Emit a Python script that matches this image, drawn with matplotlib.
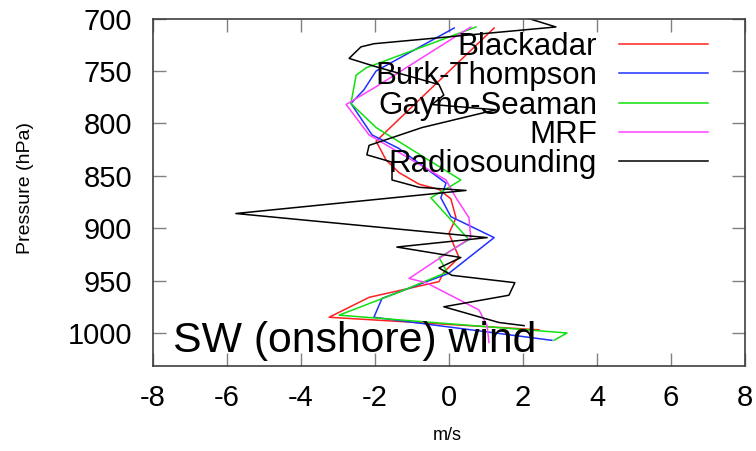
import matplotlib
matplotlib.use("Agg")
import matplotlib.pyplot as plt

# wind component (m/s) vs pressure (hPa)
blackadar_u = [1.22, -1.97, -1.70, -1.35, -0.81, -0.27, 0.05, 0.19, 0.00, 0.27, -0.14, -0.27, -2.16, -3.24, 2.43]
blackadar_p = [709, 817, 835, 847, 858, 863, 872, 890, 905, 928, 942, 951, 966, 985, 997]

burk_u = [0.14, -1.97, -2.30, -2.65, -2.08, -1.35, -0.08, -0.22, 0.05, 1.22, 0.00, -1.81, -2.03, 2.78]
burk_p = [709, 750, 768, 781, 811, 824, 857, 871, 889, 909, 943, 967, 985, 1007]

gayno_u = [0.73, -2.24, -2.51, -2.65, -1.97, 0.32, -0.05, -0.49, 0.54, -0.27, -0.05, -1.35, -2.97, 3.19, 2.84]
gayno_p = [708, 747, 754, 781, 804, 854, 862, 871, 911, 928, 942, 961, 983, 1000, 1007]

mrf_u = [0.59, -1.97, -2.78, -2.16, -0.08, 0.19, 0.54, 0.59, -1.08, -0.62, 0.81, 1.03, 1.08]
mrf_p = [708, 765, 782, 811, 854, 871, 890, 909, 948, 952, 978, 993, 1009]

sonde_u = [2.16, 2.89, -2.03, -2.38, -2.70, -1.97, -0.27, -0.14, -0.46, 1.27, -0.73, -2.16, -2.22,
           -1.54, -1.54, -0.81, 0.46, -5.76, 1.03, -1.41, 0.32, -0.27, 0.08, 1.78, 1.62, -0.14,
           1.35, 2.03]
sonde_p = [700, 708, 724, 727, 738, 746, 763, 773, 782, 787, 804, 821, 830,
           837, 854, 861, 864, 886, 909, 918, 928, 938, 945, 952, 964, 975,
           990, 993]

series = [
    ("Blackadar", blackadar_u, blackadar_p, "#ff2020"),
    ("Burk-Thompson", burk_u, burk_p, "#2030ff"),
    ("Gayno-Seaman", gayno_u, gayno_p, "#10e010"),
    ("MRF", mrf_u, mrf_p, "#ff40ff"),
    ("Radiosounding", sonde_u, sonde_p, "#000000"),
]

x_ticks = [-8, -6, -4, -2, 0, 2, 4, 6, 8]
y_ticks = [700, 750, 800, 850, 900, 950, 1000]

plt.rcParams["font.family"] = ["Liberation Sans", "DejaVu Sans"]

fig = plt.figure(figsize=(7.56, 4.51), dpi=100)
ax = fig.add_axes([0.2024, 0.1885, 0.7830, 0.7703])

for name, u, p, color in series:
    ax.plot(u, p, color=color, linewidth=1.1, label=name)

ax.set_xlim(-8, 8)
ax.set_ylim(1031.5, 700)
ax.set_xticks(x_ticks)
ax.set_yticks(y_ticks)
ax.set_xticklabels([str(v) for v in x_ticks])
ax.set_yticklabels([str(v) for v in y_ticks])

ax.tick_params(direction="in", top=True, right=True, length=9.5, width=1.0,
               color="#808080", labelsize=21)
ax.tick_params(axis="x", pad=13)
ax.tick_params(axis="y", pad=15)
for spine in ax.spines.values():
    spine.set_color("#404040")
    spine.set_linewidth(1.2)

ax.set_xlabel("m/s", fontsize=13, va="center")
ax.xaxis.set_label_coords(0.497, -0.20)
ax.set_ylabel("Pressure (hPa)", fontsize=14, va="center")
ax.yaxis.set_label_coords(-0.216, 0.512)

leg = ax.legend(loc="upper right", bbox_to_anchor=(0.9375, 0.962),
                frameon=False, fontsize=22.5, markerfirst=False,
                handlelength=2.85, handletextpad=0.7, labelspacing=-0.02,
                borderpad=0, borderaxespad=0)

ax.text(-7.45, 1018, "SW (onshore) wind", fontsize=30.8, ha="left", va="baseline")

fig.savefig("out.png", dpi=100)
